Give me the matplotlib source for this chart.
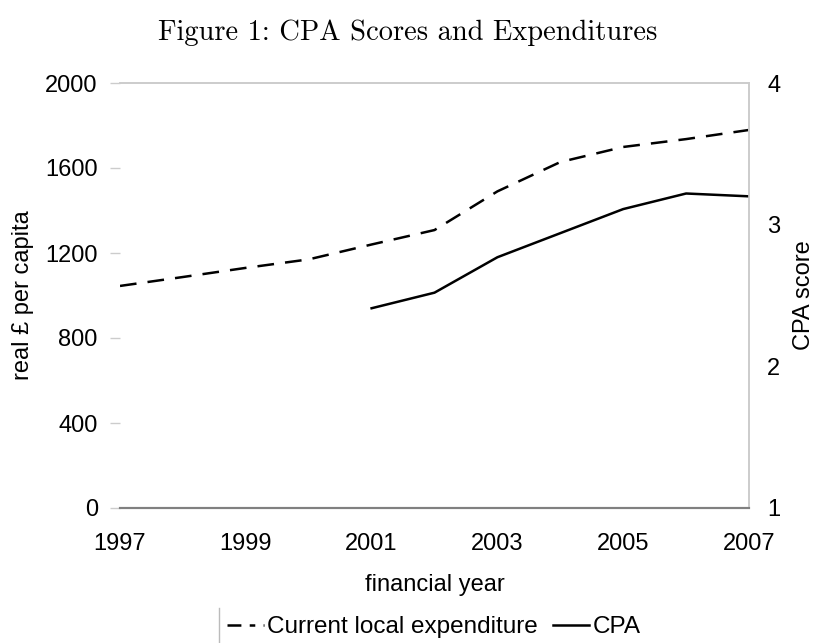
import matplotlib
matplotlib.use("Agg")
import matplotlib.pyplot as plt
from matplotlib.lines import Line2D

years_exp = [1997, 1998, 1999, 2000, 2001, 2002, 2003, 2004, 2005, 2006, 2007]
expenditure = [1045, 1087, 1130, 1170, 1240, 1308, 1490, 1628, 1699, 1736, 1779]
years_cpa = [2001, 2002, 2003, 2004, 2005, 2006, 2007]
cpa = [2.41, 2.52, 2.77, 2.94, 3.11, 3.22, 3.20]

left_ticks = [0, 400, 800, 1200, 1600, 2000]
right_ticks = [1, 2, 3, 4]
x_ticks = [1997, 1999, 2001, 2003, 2005, 2007]

plt.rcParams['font.family'] = ['Liberation Sans', 'DejaVu Sans']
plt.rcParams['lines.scale_dashes'] = False

fig = plt.figure(figsize=(8.16, 6.43), dpi=100)
ax = fig.add_axes([120/816, 1-508/643, (749-120)/816, (508-83)/643])
ax2 = ax.twinx()

ax.plot(years_exp, expenditure, color='black', lw=1.8, dashes=(12, 8),
        solid_capstyle='butt')
ax2.plot(years_cpa, cpa, color='black', lw=1.8)

ax.set_xlim(1997, 2007)
ax.set_ylim(0, 2000)
ax2.set_ylim(1, 4)
ax.set_xticks(x_ticks)
ax.set_yticks(left_ticks)
ax2.set_yticks(right_ticks)

fs = 17
ax.tick_params(axis='x', length=0, pad=18, labelsize=fs)
ax.tick_params(axis='y', length=7, width=1, color='#cccccc', pad=9, labelsize=fs)
ax2.tick_params(axis='y', length=0, pad=13, labelsize=fs)

for a in (ax, ax2):
    a.spines['left'].set_visible(False)
    a.spines['top'].set_color('#cccccc')
    a.spines['right'].set_color('#cccccc')
    a.spines['bottom'].set_color('#808080')
    a.spines['top'].set_linewidth(1.2)
    a.spines['right'].set_linewidth(1.2)
    a.spines['bottom'].set_linewidth(1.5)

ax.set_ylabel('real £ per capita', fontsize=fs, labelpad=8)
ax2.set_ylabel('CPA score', fontsize=fs, labelpad=9)
ax.set_xlabel('financial year', fontsize=fs, labelpad=14)

fig.text(0.5, 1-33/643, 'Figure 1: CPA Scores and Expenditures',
         ha='center', va='center', fontsize=20.5, family='cmr10')

handles = [Line2D([], [], color='black', lw=1.8, dashes=(10, 6, 4, 6)),
           Line2D([], [], color='black', lw=1.8)]
fig.legend(handles, ['Current local expenditure', 'CPA'], loc='center',
           bbox_to_anchor=(434/816, 1-627/643), ncol=2, frameon=False,
           fontsize=17.5, handlelength=1.5, handletextpad=0.15, columnspacing=0.6)
fig.add_artist(Line2D([219/816, 219/816], [1-645/643, 1-608/643],
                      color='#bbbbbb', lw=1, transform=fig.transFigure))

fig.savefig('out.png', dpi=100)
